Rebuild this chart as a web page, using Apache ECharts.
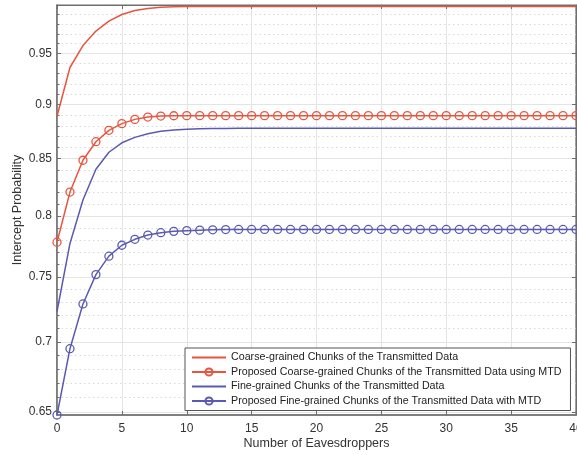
<!DOCTYPE html>
<html>
<head>
<meta charset="utf-8">
<script src="https://cdn.jsdelivr.net/npm/echarts@6/dist/echarts.min.js"></script>
<style>html,body{margin:0;padding:0;background:#fff;}#c{width:577px;height:455px;}</style>
</head>
<body>
<div id="c"></div>
<script>
const xValues = [0,1,2,3,4,5,6,7,8,9,10,11,12,13,14,15,16,17,18,19,20,21,22,23,24,25,26,27,28,29,30,31,32,33,34,35,36,37,38,39,40];
const coarse = [0.889,0.936,0.958,0.9728,0.983,0.990,0.9942,0.9963,0.9976,0.9981,0.9983,0.9984,0.9984,0.9984,0.9984,0.9984,0.9984,0.9984,0.9984,0.9984,0.9984,0.9984,0.9984,0.9984,0.9984,0.9984,0.9984,0.9984,0.9984,0.9984,0.9984,0.9984,0.9984,0.9984,0.9984,0.9984,0.9984,0.9984,0.9984,0.9984,0.9984];
const propCoarse = [0.778,0.8204,0.8485,0.8653,0.8758,0.882,0.886,0.8882,0.8891,0.8894,0.8895,0.8895,0.8895,0.8895,0.8895,0.8895,0.8895,0.8895,0.8895,0.8895,0.8895,0.8895,0.8895,0.8895,0.8895,0.8895,0.8895,0.8895,0.8895,0.8895,0.8895,0.8895,0.8895,0.8895,0.8895,0.8895,0.8895,0.8895,0.8895,0.8895,0.8895];
const fine = [0.723,0.777,0.8135,0.8405,0.8557,0.8643,0.8693,0.8726,0.8749,0.876,0.8768,0.8772,0.8775,0.8776,0.8777,0.8777,0.8777,0.8777,0.8777,0.8777,0.8777,0.8777,0.8777,0.8777,0.8777,0.8777,0.8777,0.8777,0.8777,0.8777,0.8777,0.8777,0.8777,0.8777,0.8777,0.8777,0.8777,0.8777,0.8777,0.8777,0.8777];
const propFine = [0.648,0.6951,0.7288,0.7518,0.7666,0.7755,0.7804,0.7839,0.7859,0.787,0.7876,0.788,0.7883,0.7885,0.7886,0.7886,0.7886,0.7886,0.7886,0.7886,0.7886,0.7886,0.7886,0.7886,0.7886,0.7886,0.7886,0.7886,0.7886,0.7886,0.7886,0.7886,0.7886,0.7886,0.7886,0.7886,0.7886,0.7886,0.7886,0.7886,0.7886];
const yMajorTicks = [0.65,0.7,0.75,0.8,0.85,0.9,0.95];
const yMinorTicks = [0.66,0.67,0.68,0.69,0.71,0.72,0.73,0.74,0.76,0.77,0.78,0.79,0.81,0.82,0.83,0.84,0.86,0.87,0.88,0.89,0.91,0.92,0.93,0.94,0.96,0.97,0.98,0.99];
const xTicks = [0,5,10,15,20,25,30,35,40];
const names = [
  'Coarse-grained Chunks of the Transmitted Data',
  'Proposed Coarse-grained Chunks of the Transmitted Data using MTD',
  'Fine-grained Chunks of the Transmitted Data',
  'Proposed Fine-grained Chunks of the Transmitted Data with MTD'
];

const RED = '#e8553f', BLUE = '#5a5ab2', AX = '#6e6e6e';
const font = 'Liberation Sans, Arial, sans-serif';
const pairs = arr => xValues.map((x, i) => [x, arr[i]]);

const chart = echarts.init(document.getElementById('c'), null, {renderer: 'canvas'});
chart.setOption({
  animation: false,
  backgroundColor: '#fff',
  textStyle: {fontFamily: font},
  grid: {left: 57, right: 1, top: 5, bottom: 40, containLabel: false, outerBoundsMode: 'none',
         show: true, borderColor: AX, borderWidth: 1.2, backgroundColor: '#fff'},
  xAxis: [{
    type: 'value', min: 0, max: 40, interval: 5,
    name: 'Number of Eavesdroppers', nameLocation: 'middle', nameGap: 22, nameMoveOverlap: false,
    nameTextStyle: {fontSize: 12.5, color: '#333', fontFamily: font, verticalAlign: 'top'},
    axisLine: {show: true, lineStyle: {color: AX, width: 1.5}},
    axisTick: {show: true, inside: true, length: 4, lineStyle: {color: AX}},
    axisLabel: {fontSize: 12, color: '#333', margin: 8, fontFamily: font},
    splitLine: {show: true, lineStyle: {color: '#e4e4e4', width: 1}}
  }, {
    type: 'value', min: 0, max: 40, interval: 5, position: 'top',
    axisLine: {show: true, lineStyle: {color: AX, width: 1.2}},
    axisTick: {show: true, inside: true, length: 4, lineStyle: {color: AX}},
    axisLabel: {show: false}, splitLine: {show: false}
  }],
  yAxis: [{
    type: 'log', logBase: 10, min: 0.648, max: 1,
    name: 'Intercept Probability', nameLocation: 'middle', nameGap: 33, nameMoveOverlap: false,
    nameTextStyle: {fontSize: 12.5, color: '#333', fontFamily: font},
    axisLine: {show: true, lineStyle: {color: AX, width: 1.5}},
    axisTick: {show: true, inside: true, length: 4, customValues: yMajorTicks, lineStyle: {color: AX}},
    axisLabel: {fontSize: 12, color: '#333', margin: 5, customValues: yMajorTicks, fontFamily: font,
      formatter: v => String(Math.round(v * 100) / 100)},
    splitLine: {show: true, lineStyle: {color: '#e4e4e4', width: 1}}
  }, {
    type: 'log', logBase: 10, min: 0.648, max: 1, position: 'left',
    axisLine: {show: false},
    axisTick: {show: true, inside: true, length: 2.5, customValues: yMinorTicks, lineStyle: {color: AX}},
    axisLabel: {show: false, customValues: yMinorTicks},
    splitLine: {show: true, lineStyle: {color: '#d8d8d8', width: 1, type: [1.5, 3]}}
  }, {
    type: 'log', logBase: 10, min: 0.648, max: 1, position: 'right',
    axisLine: {show: true, lineStyle: {color: AX, width: 1.2}},
    axisTick: {show: true, inside: true, length: 4, customValues: yMajorTicks, lineStyle: {color: AX}},
    axisLabel: {show: false, customValues: yMajorTicks},
    splitLine: {show: false}
  }],
  legend: {
    orient: 'vertical', left: 185, top: 348,
    backgroundColor: '#fff', borderColor: '#555', borderWidth: 1,
    padding: [4, 9, 4, 6], itemGap: 3.5, itemWidth: 34, itemHeight: 9,
    textStyle: {fontSize: 10.7, color: '#222', fontFamily: font},
    data: [
      {name: names[0], itemStyle: {opacity: 0}},
      {name: names[1]},
      {name: names[2], itemStyle: {opacity: 0}},
      {name: names[3]}
    ]
  },
  series: [
    {name: names[0], type: 'line', data: pairs(coarse), symbol: 'none', showSymbol: false,
     lineStyle: {color: RED, width: 1.5}, itemStyle: {color: RED}, z: 3},
    {name: names[1], type: 'line', data: pairs(propCoarse), symbol: 'circle', symbolSize: 8,
     lineStyle: {color: RED, width: 1.5}, itemStyle: {color: 'rgba(255,255,255,0)', borderColor: RED, borderWidth: 1.3}, z: 3},
    {name: names[2], type: 'line', data: pairs(fine), symbol: 'none', showSymbol: false,
     lineStyle: {color: BLUE, width: 1.5}, itemStyle: {color: BLUE}, z: 3},
    {name: names[3], type: 'line', data: pairs(propFine), symbol: 'circle', symbolSize: 8,
     lineStyle: {color: BLUE, width: 1.5}, itemStyle: {color: 'rgba(255,255,255,0)', borderColor: BLUE, borderWidth: 1.3}, z: 3}
  ]
});
</script>
</body>
</html>
